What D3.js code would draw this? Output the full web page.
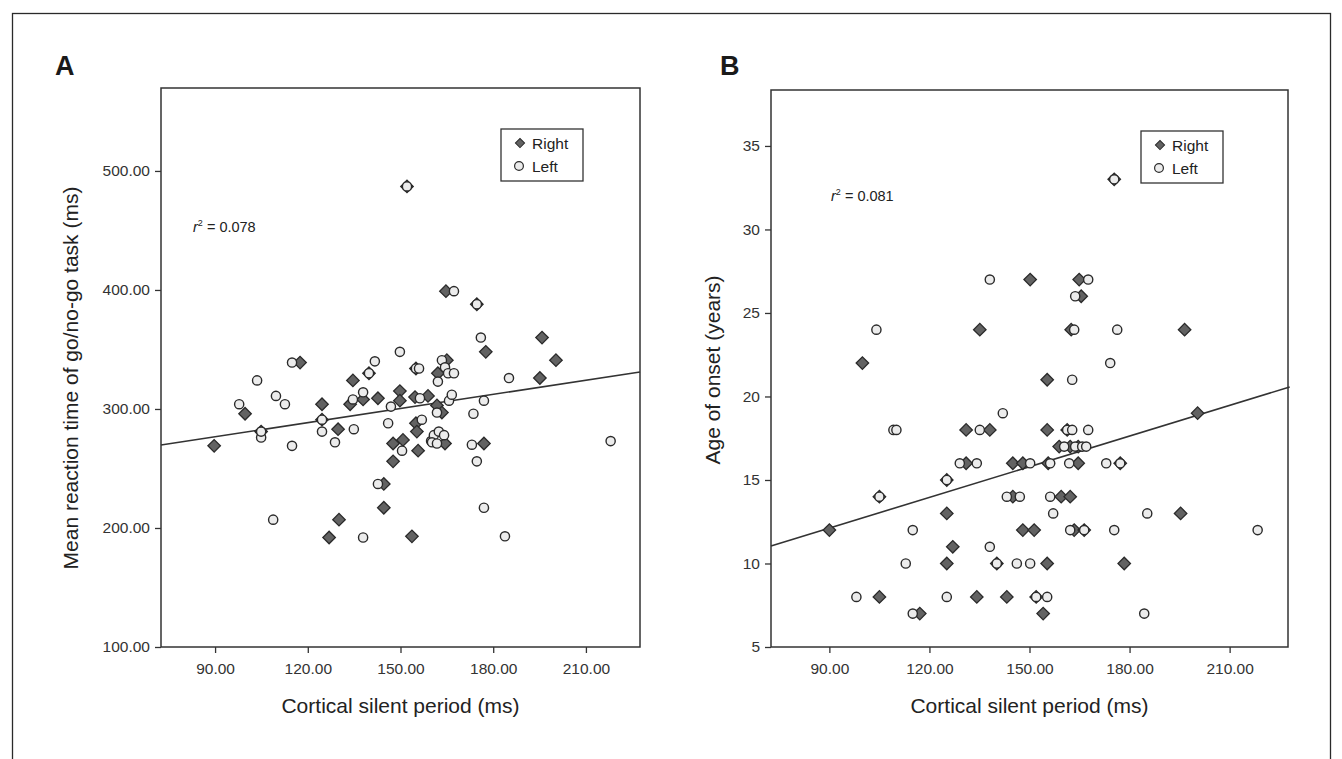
<!DOCTYPE html>
<html>
<head>
<meta charset="utf-8">
<script src="https://cdn.jsdelivr.net/npm/d3@7"></script>
<style>
  body { margin: 0; background: #fff; }
  svg { display: block; font-family: "Liberation Sans", Arial, Helvetica, sans-serif; }
</style>
</head>
<body>
<div id="chart"></div>
<script>
"use strict";

// shared x axis: cortical silent period (ms)
var xTicks = [90, 120, 150, 180, 210];
var xLabel = "Cortical silent period (ms)";

// panel A: mean reaction time of go/no-go task (ms)
var yTicksA = [100, 200, 300, 400, 500];
var rightA = [
  [89.7, 269], [99.7, 296], [104.9, 281], [117.5, 339], [124.6, 304], [124.6, 291],
  [126.9, 192], [129.8, 283], [130.1, 207], [133.7, 304], [134.6, 324], [137.9, 308],
  [139.8, 330], [142.7, 309], [144.6, 237], [144.6, 217], [147.6, 271], [147.6, 256],
  [149.8, 315], [149.8, 307], [150.8, 274], [152.1, 487], [153.7, 193], [154.7, 310],
  [155.0, 288], [155.3, 281], [155.7, 265], [155.0, 334], [158.9, 311], [161.8, 303],
  [162.1, 330], [163.4, 297], [164.4, 271], [164.7, 399], [165.0, 341], [174.7, 388],
  [177.0, 271], [177.6, 348], [195.1, 326], [195.8, 360], [200.3, 341]
];
var leftA = [
  [97.8, 304], [103.6, 324], [104.9, 276], [104.9, 281], [109.7, 311], [108.8, 207],
  [112.6, 304], [114.9, 339], [114.9, 269], [124.6, 291], [124.6, 281], [128.8, 272],
  [134.9, 283], [134.6, 308], [137.9, 314], [139.8, 330], [137.9, 192], [141.7, 340],
  [142.7, 237], [146.0, 288], [146.9, 302], [149.8, 348], [150.5, 265], [152.1, 487],
  [155.0, 334], [156.0, 334], [156.3, 309], [156.9, 291], [159.9, 273], [160.8, 278],
  [162.4, 281], [164.1, 278], [160.2, 272], [161.8, 271], [161.8, 297], [162.1, 323],
  [163.4, 341], [164.4, 335], [165.4, 330], [167.3, 330], [165.7, 307], [166.6, 312],
  [167.3, 399], [173.1, 270], [173.6, 296], [174.7, 256], [174.7, 388], [176.0, 360],
  [177.0, 307], [177.0, 217], [183.8, 193], [185.1, 326], [218.0, 273]
];
var fitA = [[72.5, 269.7], [227.5, 331.1]];
var r2A = "0.078";

// panel B: age of onset (years)
var yTicksB = [5, 10, 15, 20, 25, 30, 35];
var rightB = [
  [90.0, 12], [99.9, 22], [105.0, 8], [105.0, 14], [117.1, 7], [125.2, 13],
  [125.2, 15], [125.2, 10], [127.0, 11], [131.0, 18], [131.0, 16], [134.2, 8],
  [135.1, 24], [138.1, 18], [140.2, 10], [143.2, 8], [145.0, 16], [145.0, 14],
  [148.0, 16], [148.0, 12], [150.2, 27], [151.4, 12], [152.0, 8], [154.1, 7],
  [155.3, 21], [155.3, 18], [155.3, 10], [155.6, 16], [158.9, 17], [159.5, 14],
  [161.3, 18], [162.2, 17], [162.2, 14], [162.5, 24], [163.4, 12], [164.6, 17],
  [164.6, 16], [164.9, 27], [165.5, 26], [166.4, 12], [175.4, 33], [177.2, 16],
  [178.4, 10], [195.3, 13], [196.5, 24], [200.4, 19]
];
var leftB = [
  [98.1, 8], [104.1, 24], [105.0, 14], [109.2, 18], [110.1, 18], [112.9, 10],
  [115.0, 12], [115.0, 7], [125.2, 8], [125.2, 15], [129.1, 16], [134.2, 16],
  [135.1, 18], [138.1, 27], [138.1, 11], [140.2, 10], [142.0, 19], [143.2, 14],
  [146.2, 10], [147.1, 14], [150.2, 16], [150.2, 10], [152.0, 8], [155.3, 8],
  [156.2, 16], [156.2, 14], [157.1, 13], [160.4, 17], [161.3, 18], [161.9, 16],
  [162.2, 12], [162.8, 21], [162.8, 18], [163.4, 24], [163.7, 17], [163.7, 26],
  [165.8, 17], [166.4, 12], [167.0, 17], [167.6, 27], [167.6, 18], [173.0, 16],
  [174.2, 22], [175.4, 33], [175.4, 12], [176.3, 24], [177.2, 16], [184.4, 7],
  [185.3, 13], [218.4, 12]
];
var fitB = [[72.5, 11.05], [228.0, 20.57]];
var r2B = "0.081";

var W = 1342, H = 759;
var svg = d3.select("#chart").append("svg")
  .attr("width", W)
  .attr("height", H);

// outer figure frame
svg.append("rect")
  .attr("x", 12.5).attr("y", 13.5)
  .attr("width", 1318).attr("height", 780)
  .attr("fill", "none")
  .attr("stroke", "#2a2a2a")
  .attr("stroke-width", 1.3);

var diamond = d3.symbol().type(d3.symbolSquare).size(78);

function panel(opt) {
  var x = d3.scaleLinear().domain([72.5, 227.5]).range([opt.left, opt.right]);
  var y = d3.scaleLinear().domain(opt.yDomain).range([opt.bottom, opt.top]);
  var g = svg.append("g");

  g.append("text")
    .attr("x", opt.letterX).attr("y", 75)
    .attr("font-size", 27).attr("font-weight", "bold")
    .attr("fill", "#1a1a1a")
    .text(opt.letter);

  // axes
  var xAxis = g.append("g")
    .attr("transform", "translate(0," + opt.bottom + ")")
    .call(d3.axisBottom(x).tickValues(xTicks).tickSizeOuter(0).tickSize(6).tickPadding(10)
      .tickFormat(d3.format(".2f")));
  var yAxis = g.append("g")
    .attr("transform", "translate(" + opt.left + ",0)")
    .call(d3.axisLeft(y).tickValues(opt.yTicks).tickSizeOuter(0).tickSize(6).tickPadding(5)
      .tickFormat(opt.yFormat));
  [xAxis, yAxis].forEach(function(a) {
    a.select(".domain").remove();
    a.selectAll("line").attr("stroke", "#333").attr("stroke-width", 1.3);
    a.selectAll("text").attr("font-size", 15.5).attr("fill", "#333")
      .attr("font-family", "\"Liberation Sans\", Arial, sans-serif");
  });

  g.append("rect")
    .attr("x", opt.left).attr("y", opt.top)
    .attr("width", opt.right - opt.left).attr("height", opt.bottom - opt.top)
    .attr("fill", "none").attr("stroke", "#333").attr("stroke-width", 1.5);

  g.append("text")
    .attr("x", (opt.left + opt.right) / 2).attr("y", opt.bottom + 66)
    .attr("text-anchor", "middle").attr("font-size", 21).attr("fill", "#222")
    .text(xLabel);
  g.append("text")
    .attr("transform", "translate(" + opt.yLabelX + "," + opt.yLabelY + ") rotate(-90)")
    .attr("text-anchor", "middle").attr("font-size", 21).attr("fill", "#222")
    .text(opt.yLabel);

  // fit line
  g.append("line")
    .attr("x1", x(opt.fit[0][0])).attr("y1", y(opt.fit[0][1]))
    .attr("x2", x(opt.fit[1][0])).attr("y2", y(opt.fit[1][1]))
    .attr("stroke", "#333").attr("stroke-width", 1.6);

  // points: right diamonds, then left circles on top
  g.selectAll("path.right")
    .data(opt.right_)
    .enter()
      .append("path")
        .attr("class", "right")
        .attr("d", diamond)
        .attr("transform", function(d) {
          return "translate(" + x(d[0]) + "," + y(d[1]) + ") rotate(45)";
        })
        .attr("fill", "#626262")
        .attr("stroke", "#2a2a2a")
        .attr("stroke-width", 1.3);
  g.selectAll("circle.left")
    .data(opt.left_)
    .enter()
      .append("circle")
        .attr("class", "left")
        .attr("cx", function(d) { return x(d[0]); })
        .attr("cy", function(d) { return y(d[1]); })
        .attr("r", 4.6)
        .attr("fill", "#ececec")
        .attr("stroke", "#2a2a2a")
        .attr("stroke-width", 1.4);

  // r squared note
  var t = g.append("text")
    .attr("x", opt.r2X).attr("y", opt.r2Y)
    .attr("font-size", 14.5).attr("fill", "#222");
  t.append("tspan").attr("font-style", "italic").text("r");
  t.append("tspan").attr("font-size", 9).attr("dy", -6).text("2");
  t.append("tspan").attr("dy", 6).text(" = " + opt.r2);

  // legend
  var lg = g.append("g").attr("transform", "translate(" + opt.legX + "," + opt.legY + ")");
  lg.append("rect")
    .attr("width", 82).attr("height", 52)
    .attr("fill", "#fff").attr("stroke", "#333").attr("stroke-width", 1.3);
  lg.append("path")
    .attr("d", d3.symbol().type(d3.symbolSquare).size(42))
    .attr("transform", "translate(19,14) rotate(45)")
    .attr("fill", "#626262").attr("stroke", "#2a2a2a").attr("stroke-width", 1);
  lg.append("circle")
    .attr("cx", 18).attr("cy", 37).attr("r", 4.4)
    .attr("fill", "#ececec").attr("stroke", "#2a2a2a").attr("stroke-width", 1.2);
  lg.append("text").attr("x", 31).attr("y", 20).attr("font-size", 15.5).attr("fill", "#222").text("Right");
  lg.append("text").attr("x", 31).attr("y", 43).attr("font-size", 15.5).attr("fill", "#222").text("Left");
}

panel({
  letter: "A", letterX: 55,
  left: 161, right: 640, top: 88, bottom: 647,
  yDomain: [100, 569.7], yTicks: yTicksA, yFormat: d3.format(".2f"),
  yLabel: "Mean reaction time of go/no-go task (ms)", yLabelX: 78, yLabelY: 378,
  right_: rightA, left_: leftA, fit: fitA,
  r2: r2A, r2X: 193, r2Y: 232,
  legX: 501, legY: 129
});

panel({
  letter: "B", letterX: 720,
  left: 771, right: 1288, top: 90, bottom: 647,
  yDomain: [5, 38.35], yTicks: yTicksB, yFormat: d3.format("d"),
  yLabel: "Age of onset (years)", yLabelX: 720, yLabelY: 370,
  right_: rightB, left_: leftB, fit: fitB,
  r2: r2B, r2X: 831, r2Y: 201,
  legX: 1141, legY: 131
});
</script>
</body>
</html>
